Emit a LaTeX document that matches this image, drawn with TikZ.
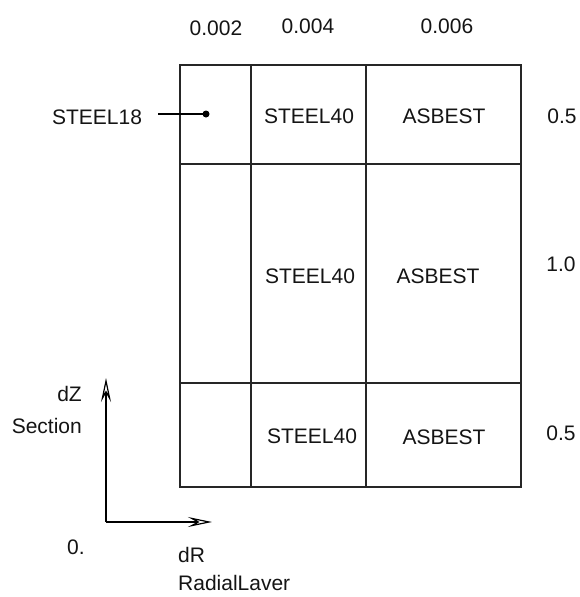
\documentclass[tikz,border=0pt]{standalone}
\usepackage{fontspec}
\setmainfont{Liberation Sans}
\usetikzlibrary{arrows.meta}
\begin{document}
\begin{tikzpicture}[x=1pt,y=-1pt,
  cell/.style={draw=black!85,line width=1.3pt},
  lbl/.style={font=\fontsize{21}{24}\selectfont,text=black!92,inner sep=0pt},
  axis/.style={line width=1.2pt,-{Stealth[open,length=24pt,width=10pt,inset=9pt]}}]
\useasboundingbox (0,0) rectangle (579,597);
% layer grid
\draw[cell] (180,65) rectangle (521,487);
\draw[cell] (251,65) -- (251,487);
\draw[cell] (366,65) -- (366,487);
\draw[cell] (180,164) -- (521,164);
\draw[cell] (180,383) -- (521,383);
% column widths
\node[lbl] (c1) at (216,28) {0.002};
\node[lbl] (c2) at (308,26) {0.004};
\node[lbl] (c3) at (447,26) {0.006};
% row heights
\node[lbl] (r1) at (562,116) {0.5};
\node[lbl] (r2) at (561,264) {1.0};
\node[lbl] (r3) at (561,433) {0.5};
% materials
\node[lbl] (m11) at (309,116) {STEEL40};
\node[lbl] (m12) at (444,116) {ASBEST};
\node[lbl] (m21) at (310,276) {STEEL40};
\node[lbl] (m22) at (438,276) {ASBEST};
\node[lbl] (m31) at (312,436) {STEEL40};
\node[lbl] (m32) at (444,437) {ASBEST};
% pointer to the thin inner layer
\node[lbl] (s18) at (97,117) {STEEL18};
\node[circle,fill=black,inner sep=0pt,minimum size=7pt] (dot) at (206,114) {};
\coordinate (s18e) at (158,114);
\draw[line width=1.2pt] (s18e) -- (dot.center);
% axes
\coordinate (o) at (106,522);
\coordinate (zt) at (106,378);
\coordinate (rt) at (212,522);
\draw[axis] (o) -- (zt);
\draw[axis] (o) -- (rt);
\node[lbl,anchor=east] (dz) at (82,394) {dZ};
\node[lbl,anchor=east] (sec) at (82,426) {Section};
\node[lbl,anchor=west] (zero) at (67,547) {0.};
\node[lbl,anchor=west] (dr) at (178,555) {dR};
\node[lbl,anchor=base west] (rl) at (178,590) {RadialLaver};
\end{tikzpicture}
\end{document}
